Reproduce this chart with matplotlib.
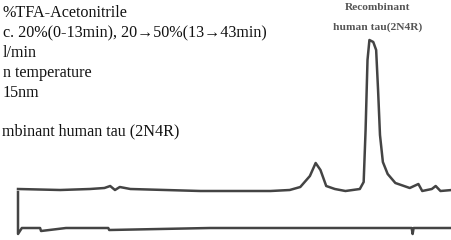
import matplotlib.pyplot as plt

# retention time (min) and absorbance (mAU)
time = [0, 4.4, 7.5, 9.0, 9.6, 10.1, 10.6, 11.7, 19.0, 26.3, 28.3, 29.4, 30.4,
        31.0, 31.5, 32.1, 33.0, 34.1, 35.6, 36.0, 36.2, 36.4, 36.6, 37.0, 37.3,
        37.5, 37.7, 38.0, 38.5, 39.3, 40.8, 41.7, 42.1, 43.1, 43.5, 44.0, 45.2]
sample = [1, 0, 1, 2, 4, 0, 3, 1, -1, -1, 0, 3, 14,
          27, 20, 4, 1, -1, 1, 8, 60, 130, 150, 148, 140,
          100, 55, 28, 16, 7, 2, 6, -1, 1, 4, -1, 0]

blank_time = [0, 0, 0.4, 2.3, 2.4, 5, 9.4, 9.5, 20, 30, 41, 41.1, 41.2, 45.2]
blank = [-2, -44, -38, -38, -41, -38, -38, -40, -38, -38, -38, -44, -38, -38]

conditions = [
    "%TFA-Acetonitrile",
    "c. 20%(0-13min), 20\u219250%(13\u219243min)",
    "l/min",
    "n temperature",
    "15nm",
]
sample_name = "mbinant human tau (2N4R)"
peak_label = ["Recombinant", "human tau(2N4R)"]

plt.rcParams['font.family'] = ['Liberation Serif', 'DejaVu Serif']

fig = plt.figure(figsize=(4.52, 2.40), dpi=100)
ax = fig.add_axes([0, 0, 1, 1])
ax.plot(time, sample, color="#444444", linewidth=1.8)
ax.plot(blank_time, blank, color="#444444", linewidth=1.8)
ax.set_xlim(-1.875, 45.2)
ax.set_ylim(-50, 190)
ax.axis("off")

for i, line in enumerate(conditions):
    fig.text(3 / 452, 1 - (13 + i * 20) / 240, line, fontsize=11.6,
             va="center", ha="left", color="#111111")
fig.text(2 / 452, 1 - 131 / 240, sample_name, fontsize=11.6,
         va="center", ha="left", color="#111111")

fig.text(378 / 452, 1 - 8 / 240, peak_label[0], fontsize=8.2, weight="bold",
         va="center", ha="center", color="#555555")
fig.text(378 / 452, 1 - 27 / 240, peak_label[1], fontsize=8.2, weight="bold",
         va="center", ha="center", color="#555555")

fig.savefig("out.png", dpi=100)
